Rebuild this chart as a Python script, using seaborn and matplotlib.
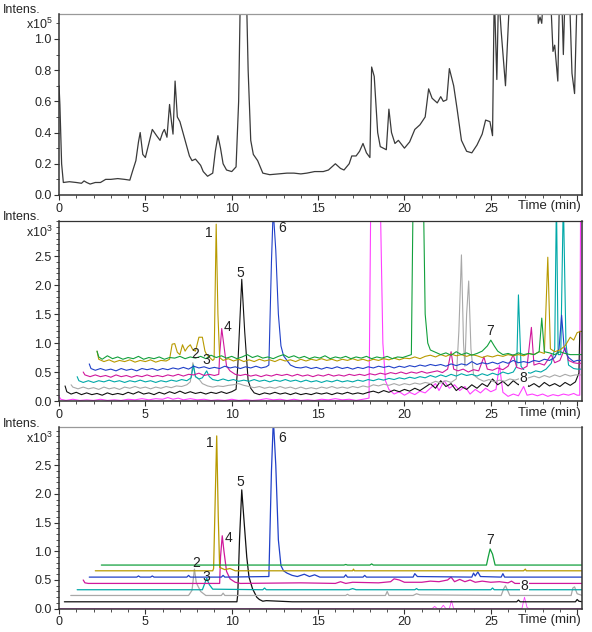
import matplotlib
matplotlib.use("Agg")
import matplotlib.pyplot as plt
from matplotlib.ticker import MultipleLocator
import seaborn as sns

# ---- top panel: total ion chromatogram (x10^5) ----
tic = [(0.0, 0.70), (0.05, 0.58), (0.15, 0.20), (0.25, 0.08), (0.6, 0.085), (1.0, 0.08), (1.3, 0.075),
       (1.45, 0.09), (1.6, 0.08), (1.8, 0.07), (2.1, 0.08), (2.4, 0.08), (2.7, 0.10), (3.0, 0.10),
       (3.4, 0.105), (3.8, 0.10), (4.1, 0.095), (4.25, 0.15), (4.45, 0.22), (4.6, 0.34), (4.7, 0.40),
       (4.85, 0.26), (5.0, 0.24), (5.2, 0.33), (5.4, 0.42), (5.65, 0.38), (5.85, 0.35), (6.0, 0.40),
       (6.1, 0.42), (6.25, 0.37), (6.4, 0.58), (6.52, 0.46), (6.6, 0.39), (6.72, 0.73), (6.85, 0.50),
       (7.0, 0.47), (7.3, 0.35), (7.55, 0.25), (7.7, 0.22), (7.9, 0.23), (8.2, 0.19), (8.35, 0.15),
       (8.6, 0.12), (8.9, 0.14), (9.05, 0.28), (9.2, 0.38), (9.35, 0.30), (9.5, 0.20), (9.7, 0.16),
       (10.0, 0.15), (10.25, 0.18), (10.4, 0.6), (10.5, 1.3), (10.85, 1.3), (10.95, 0.8), (11.1, 0.35),
       (11.25, 0.26), (11.5, 0.22), (11.8, 0.14), (12.2, 0.13), (12.7, 0.135), (13.2, 0.14), (13.6, 0.14),
       (14.0, 0.135), (14.35, 0.14), (14.8, 0.15), (15.3, 0.15), (15.6, 0.16), (16.0, 0.20), (16.3, 0.17),
       (16.5, 0.16), (16.8, 0.20), (16.95, 0.25), (17.2, 0.25), (17.4, 0.28), (17.6, 0.33), (17.8, 0.27),
       (18.0, 0.24), (18.1, 0.82), (18.25, 0.76), (18.45, 0.40), (18.6, 0.31), (18.95, 0.29), (19.1, 0.55),
       (19.25, 0.40), (19.45, 0.33), (19.65, 0.35), (20.0, 0.30), (20.3, 0.34), (20.6, 0.42), (20.9, 0.45),
       (21.2, 0.50), (21.4, 0.68), (21.6, 0.62), (21.9, 0.59), (22.1, 0.63), (22.25, 0.60), (22.45, 0.61),
       (22.6, 0.81), (22.85, 0.70), (23.05, 0.55), (23.3, 0.35), (23.6, 0.28), (23.9, 0.27), (24.2, 0.32),
       (24.5, 0.39), (24.7, 0.48), (24.95, 0.47), (25.1, 0.38), (25.2, 1.3), (25.35, 0.74), (25.45, 1.3),
       (25.6, 1.05), (25.85, 0.70), (26.1, 1.3), (27.7, 1.3), (27.75, 1.10), (27.85, 1.14), (27.95, 1.10),
       (28.05, 1.3), (28.45, 1.3), (28.6, 0.92), (28.7, 0.96), (28.88, 0.73), (28.98, 1.3), (29.1, 1.3),
       (29.2, 0.9), (29.3, 1.3), (29.55, 1.3), (29.7, 0.78), (29.85, 0.65), (30.0, 1.3), (30.3, 1.3)]

# ---- middle panel: extracted ion chromatograms (x10^3) ----
eic_green = [(2.2, 0.86), (2.3, 0.76), (2.5, 0.72), (2.8, 0.78), (3.1, 0.73), (3.4, 0.76), (3.7, 0.72),
             (4.0, 0.75), (4.3, 0.73), (4.6, 0.77), (4.9, 0.72), (5.2, 0.75), (5.5, 0.73), (5.8, 0.76),
             (6.1, 0.72), (6.4, 0.75), (6.7, 0.74), (7.0, 0.77), (7.3, 0.73), (7.6, 0.76), (7.9, 0.74),
             (8.2, 0.77), (8.5, 0.73), (8.8, 0.79), (9.1, 0.75), (9.4, 0.78), (9.7, 0.74), (10.0, 0.77),
             (10.3, 0.73), (10.6, 0.76), (10.9, 0.80), (11.2, 0.75), (11.5, 0.78), (11.8, 0.74), (12.1, 0.76),
             (12.4, 0.73), (12.7, 0.77), (13.0, 0.80), (13.3, 0.75), (13.6, 0.78), (13.9, 0.74), (14.2, 0.77),
             (14.5, 0.73), (14.8, 0.76), (15.1, 0.74), (15.4, 0.78), (15.7, 0.73), (16.0, 0.76), (16.3, 0.74),
             (16.6, 0.77), (16.9, 0.73), (17.2, 0.76), (17.5, 0.74), (17.8, 0.77), (18.1, 0.73), (18.4, 0.76),
             (18.7, 0.74), (19.0, 0.77), (19.3, 0.73), (19.6, 0.76), (19.9, 0.75), (20.2, 0.78), (20.4, 0.80),
             (20.5, 3.5), (21.1, 3.5), (21.2, 1.5), (21.35, 1.0), (21.5, 0.88), (21.8, 0.84), (22.1, 0.80),
             (22.4, 0.83), (22.7, 0.79), (23.0, 0.85), (23.3, 0.80), (23.6, 0.83), (23.9, 0.79), (24.2, 0.82),
             (24.5, 0.86), (24.8, 0.95), (25.0, 1.05), (25.2, 0.95), (25.4, 0.86), (25.7, 0.80), (26.0, 0.82),
             (26.3, 0.79), (26.6, 0.83), (26.9, 0.80), (27.2, 0.82), (27.5, 0.80), (27.8, 0.85), (27.95, 1.43),
             (28.1, 0.85), (28.4, 0.83), (28.7, 0.80), (29.0, 0.85), (29.3, 0.82), (29.6, 0.80), (30.0, 0.80),
             (30.3, 0.80)]
eic_olive = [(2.2, 0.86), (2.3, 0.72), (2.6, 0.68), (2.9, 0.71), (3.2, 0.67), (3.5, 0.70), (3.8, 0.68),
             (4.1, 0.71), (4.4, 0.67), (4.7, 0.70), (5.0, 0.68), (5.3, 0.71), (5.6, 0.67), (5.9, 0.70),
             (6.2, 0.69), (6.4, 0.72), (6.55, 0.98), (6.7, 0.99), (6.85, 0.84), (7.0, 0.80), (7.15, 0.97),
             (7.3, 0.86), (7.45, 0.93), (7.6, 0.97), (7.75, 0.88), (7.9, 0.86), (8.1, 1.10), (8.3, 1.10),
             (8.45, 0.86), (8.55, 0.80), (8.9, 0.70), (8.98, 0.72), (9.1, 3.05), (9.2, 1.5), (9.3, 0.75),
             (9.5, 0.70), (9.8, 0.73), (10.1, 0.69), (10.4, 0.72), (10.7, 0.68), (11.0, 0.71), (11.3, 0.68),
             (11.6, 0.72), (11.9, 0.69), (12.2, 0.71), (12.5, 0.68), (12.8, 0.72), (13.1, 0.69), (13.4, 0.71),
             (13.7, 0.68), (14.0, 0.72), (14.3, 0.69), (14.6, 0.72), (14.9, 0.70), (15.2, 0.73), (15.5, 0.70),
             (15.8, 0.72), (16.1, 0.69), (16.4, 0.72), (16.7, 0.70), (17.0, 0.73), (17.3, 0.70), (17.6, 0.72),
             (17.9, 0.69), (18.2, 0.72), (18.5, 0.70), (18.8, 0.73), (19.1, 0.71), (19.4, 0.74), (19.7, 0.71),
             (20.0, 0.74), (20.3, 0.73), (20.6, 0.76), (20.9, 0.73), (21.2, 0.77), (21.5, 0.79), (21.8, 0.76),
             (22.1, 0.80), (22.4, 0.77), (22.7, 0.81), (23.0, 0.78), (23.3, 0.80), (23.6, 0.77), (23.9, 0.80),
             (24.2, 0.78), (24.5, 0.75), (24.8, 0.78), (25.1, 0.76), (25.4, 0.79), (25.7, 0.77), (26.0, 0.80),
             (26.3, 0.78), (26.6, 0.80), (26.9, 0.78), (27.2, 0.82), (27.5, 0.80), (27.8, 0.85), (28.1, 0.82),
             (28.3, 2.48), (28.45, 0.90), (28.7, 0.85), (29.0, 0.88), (29.3, 0.95), (29.6, 1.10), (29.8, 1.05),
             (30.0, 1.18), (30.2, 1.2)]
eic_blue = [(1.75, 0.64), (1.85, 0.56), (2.1, 0.53), (2.4, 0.56), (2.7, 0.53), (3.0, 0.55), (3.3, 0.52),
            (3.6, 0.56), (3.9, 0.53), (4.2, 0.55), (4.5, 0.52), (4.8, 0.56), (5.1, 0.54), (5.4, 0.56),
            (5.7, 0.53), (6.0, 0.56), (6.3, 0.54), (6.6, 0.57), (6.9, 0.55), (7.2, 0.58), (7.5, 0.55),
            (7.8, 0.60), (8.1, 0.57), (8.4, 0.59), (8.7, 0.56), (9.0, 0.58), (9.3, 0.56), (9.6, 0.60),
            (9.9, 0.57), (10.2, 0.59), (10.5, 0.56), (10.8, 0.59), (11.1, 0.57), (11.4, 0.60), (11.7, 0.57),
            (12.0, 0.59), (12.15, 0.62), (12.3, 2.4), (12.4, 3.3), (12.55, 2.6), (12.7, 1.5), (12.85, 0.95),
            (13.0, 0.78), (13.2, 0.70), (13.4, 0.62), (13.7, 0.58), (14.0, 0.57), (14.3, 0.59), (14.6, 0.56),
            (14.9, 0.58), (15.2, 0.55), (15.5, 0.58), (15.8, 0.56), (16.1, 0.59), (16.4, 0.56), (16.7, 0.58),
            (17.0, 0.55), (17.3, 0.58), (17.6, 0.56), (17.9, 0.59), (18.2, 0.57), (18.5, 0.60), (18.8, 0.58),
            (19.1, 0.60), (19.4, 0.57), (19.7, 0.60), (20.0, 0.58), (20.3, 0.61), (20.6, 0.59), (20.9, 0.62),
            (21.2, 0.60), (21.5, 0.63), (21.8, 0.61), (22.1, 0.63), (22.4, 0.60), (22.7, 0.64), (23.0, 0.61),
            (23.3, 0.64), (23.6, 0.62), (23.9, 0.68), (24.2, 0.63), (24.5, 0.66), (24.8, 0.64), (25.1, 0.67),
            (25.4, 0.64), (25.7, 0.68), (26.0, 0.65), (26.3, 0.70), (26.6, 0.66), (26.9, 0.68), (27.2, 0.66),
            (27.5, 0.70), (27.8, 0.68), (28.1, 0.72), (28.4, 0.70), (28.7, 0.75), (28.95, 0.90), (29.1, 1.48),
            (29.25, 0.90), (29.5, 0.75), (29.8, 0.68), (30.0, 0.70), (30.2, 0.70)]
eic_magenta = [(1.4, 0.50), (1.5, 0.45), (1.8, 0.42), (2.1, 0.45), (2.4, 0.42), (2.7, 0.44), (3.0, 0.41),
               (3.3, 0.45), (3.6, 0.42), (3.9, 0.44), (4.2, 0.41), (4.5, 0.44), (4.8, 0.42), (5.1, 0.45),
               (5.4, 0.42), (5.7, 0.44), (6.0, 0.42), (6.3, 0.45), (6.6, 0.43), (6.9, 0.46), (7.2, 0.43),
               (7.5, 0.46), (7.8, 0.45), (8.1, 0.48), (8.4, 0.44), (8.7, 0.46), (9.0, 0.44), (9.25, 0.46),
               (9.3, 0.80), (9.42, 1.25), (9.55, 0.95), (9.7, 0.60), (9.9, 0.52), (10.2, 0.46), (10.5, 0.44),
               (10.8, 0.46), (11.1, 0.43), (11.4, 0.45), (11.7, 0.42), (12.0, 0.45), (12.3, 0.43), (12.6, 0.46),
               (12.9, 0.44), (13.2, 0.46), (13.5, 0.43), (13.8, 0.46), (14.1, 0.43), (14.4, 0.45), (14.7, 0.42),
               (15.0, 0.45), (15.3, 0.43), (15.6, 0.46), (15.9, 0.43), (16.2, 0.45), (16.5, 0.43), (16.8, 0.46),
               (17.1, 0.44), (17.4, 0.46), (17.7, 0.44), (18.0, 0.47), (18.3, 0.45), (18.6, 0.48), (18.9, 0.46),
               (19.2, 0.49), (19.5, 0.47), (19.8, 0.50), (20.1, 0.47), (20.4, 0.50), (20.7, 0.48), (21.0, 0.51),
               (21.3, 0.48), (21.6, 0.50), (21.9, 0.52), (22.2, 0.49), (22.5, 0.55), (22.7, 0.85), (22.85, 0.55),
               (23.1, 0.52), (23.4, 0.55), (23.7, 0.50), (24.0, 0.54), (24.3, 0.52), (24.6, 0.76), (24.8, 0.55),
               (25.1, 0.53), (25.4, 0.57), (25.7, 0.54), (26.0, 0.60), (26.3, 0.80), (26.5, 0.58), (26.8, 0.55),
               (27.1, 0.60), (27.35, 1.27), (27.5, 0.62), (27.8, 0.65), (28.1, 0.62), (28.5, 0.80), (28.7, 0.66),
               (29.0, 0.70), (29.3, 0.92), (29.5, 0.70), (29.8, 0.66), (30.0, 0.65), (30.2, 0.65)]
eic_cyan = [(1.05, 0.42), (1.15, 0.35), (1.4, 0.32), (1.7, 0.35), (2.0, 0.32), (2.3, 0.35), (2.6, 0.33),
            (2.9, 0.36), (3.2, 0.33), (3.5, 0.35), (3.8, 0.32), (4.1, 0.35), (4.4, 0.33), (4.7, 0.36),
            (5.0, 0.33), (5.3, 0.35), (5.6, 0.32), (5.9, 0.35), (6.2, 0.33), (6.5, 0.36), (6.8, 0.34),
            (7.1, 0.37), (7.4, 0.35), (7.65, 0.40), (7.78, 0.62), (7.9, 0.42), (8.1, 0.38), (8.3, 0.40),
            (8.55, 0.52), (8.7, 0.42), (8.9, 0.37), (9.2, 0.35), (9.5, 0.38), (9.8, 0.35), (10.1, 0.37),
            (10.4, 0.34), (10.7, 0.36), (11.0, 0.34), (11.3, 0.37), (11.6, 0.34), (11.9, 0.36), (12.2, 0.33),
            (12.5, 0.36), (12.8, 0.34), (13.1, 0.37), (13.4, 0.34), (13.7, 0.36), (14.0, 0.33), (14.3, 0.36),
            (14.6, 0.33), (14.9, 0.35), (15.2, 0.32), (15.5, 0.35), (15.8, 0.33), (16.1, 0.36), (16.4, 0.33),
            (16.7, 0.35), (17.0, 0.33), (17.3, 0.36), (17.6, 0.34), (17.9, 0.37), (18.2, 0.35), (18.5, 0.38),
            (18.8, 0.36), (19.1, 0.39), (19.4, 0.37), (19.7, 0.40), (20.0, 0.38), (20.3, 0.41), (20.6, 0.39),
            (20.9, 0.42), (21.2, 0.40), (21.5, 0.44), (21.8, 0.41), (22.1, 0.45), (22.4, 0.42), (22.7, 0.46),
            (23.0, 0.43), (23.3, 0.47), (23.6, 0.44), (23.9, 0.46), (24.2, 0.43), (24.5, 0.47), (24.8, 0.44),
            (25.1, 0.48), (25.4, 0.45), (25.7, 0.50), (26.0, 0.47), (26.3, 0.50), (26.5, 0.60), (26.6, 1.83),
            (26.75, 0.60), (27.0, 0.50), (27.3, 0.48), (27.6, 0.52), (27.9, 0.50), (28.2, 0.55), (28.5, 0.65),
            (28.7, 0.90), (28.8, 3.5), (28.9, 0.80), (29.05, 0.80), (29.2, 3.5), (29.35, 1.0), (29.5, 0.62),
            (29.8, 0.56), (30.0, 0.55), (30.2, 0.55)]
eic_grey = [(0.7, 0.28), (0.8, 0.24), (1.1, 0.21), (1.4, 0.24), (1.7, 0.21), (2.0, 0.23), (2.3, 0.20),
            (2.6, 0.24), (2.9, 0.21), (3.2, 0.23), (3.5, 0.20), (3.8, 0.24), (4.1, 0.22), (4.4, 0.25),
            (4.7, 0.22), (5.0, 0.24), (5.3, 0.21), (5.6, 0.24), (5.9, 0.22), (6.2, 0.25), (6.5, 0.23),
            (6.8, 0.26), (7.1, 0.25), (7.4, 0.28), (7.6, 0.33), (7.75, 0.66), (7.9, 0.42), (8.1, 0.38),
            (8.3, 0.30), (8.6, 0.26), (8.9, 0.24), (9.2, 0.26), (9.5, 0.25), (9.8, 0.27), (10.1, 0.28),
            (10.4, 0.30), (10.7, 0.27), (11.0, 0.25), (11.3, 0.23), (11.6, 0.25), (11.9, 0.22), (12.2, 0.24),
            (12.5, 0.22), (12.8, 0.25), (13.1, 0.22), (13.4, 0.24), (13.7, 0.21), (14.0, 0.24), (14.3, 0.21),
            (14.6, 0.23), (14.9, 0.21), (15.2, 0.24), (15.5, 0.22), (15.8, 0.25), (16.1, 0.22), (16.4, 0.24),
            (16.7, 0.22), (17.0, 0.25), (17.3, 0.23), (17.6, 0.26), (17.9, 0.24), (18.2, 0.28), (18.5, 0.26),
            (18.8, 0.29), (19.1, 0.27), (19.4, 0.30), (19.7, 0.27), (20.0, 0.30), (20.3, 0.28), (20.6, 0.31),
            (20.9, 0.29), (21.2, 0.32), (21.5, 0.30), (21.8, 0.34), (22.1, 0.31), (22.4, 0.35), (22.7, 0.32),
            (23.0, 0.38), (23.15, 1.2), (23.3, 2.52), (23.42, 1.0), (23.5, 0.6), (23.6, 1.5), (23.72, 2.07),
            (23.85, 0.9), (24.0, 0.45), (24.3, 0.38), (24.6, 0.34), (24.9, 0.37), (25.2, 0.33), (25.5, 0.36),
            (25.8, 0.34), (26.1, 0.38), (26.4, 0.36), (26.8, 0.40), (27.2, 0.40), (27.5, 0.43), (27.8, 0.40),
            (28.1, 0.44), (28.4, 0.41), (28.7, 0.45), (29.0, 0.42), (29.3, 0.46), (29.6, 0.43), (29.9, 0.45),
            (30.2, 0.45)]
eic_black = [(0.35, 0.26), (0.45, 0.16), (0.7, 0.12), (1.0, 0.15), (1.3, 0.11), (1.6, 0.14), (1.9, 0.11),
             (2.2, 0.13), (2.5, 0.10), (2.8, 0.14), (3.1, 0.11), (3.4, 0.13), (3.7, 0.11), (4.0, 0.15),
             (4.3, 0.12), (4.6, 0.16), (4.9, 0.12), (5.2, 0.14), (5.5, 0.11), (5.8, 0.15), (6.1, 0.12),
             (6.4, 0.16), (6.7, 0.13), (7.0, 0.17), (7.3, 0.13), (7.6, 0.16), (7.9, 0.13), (8.2, 0.15),
             (8.5, 0.12), (8.8, 0.15), (9.1, 0.13), (9.4, 0.16), (9.7, 0.13), (10.0, 0.16), (10.25, 0.20),
             (10.35, 0.60), (10.58, 2.10), (10.75, 1.20), (10.95, 0.35), (11.1, 0.22), (11.3, 0.14),
             (11.6, 0.11), (11.9, 0.14), (12.2, 0.12), (12.5, 0.15), (12.8, 0.12), (13.1, 0.14), (13.4, 0.11),
             (13.7, 0.14), (14.0, 0.11), (14.3, 0.13), (14.6, 0.11), (14.9, 0.14), (15.2, 0.12), (15.5, 0.14),
             (15.8, 0.11), (16.1, 0.14), (16.4, 0.12), (16.7, 0.15), (17.0, 0.12), (17.3, 0.14), (17.6, 0.12),
             (17.9, 0.15), (18.2, 0.17), (18.5, 0.14), (18.8, 0.18), (19.1, 0.15), (19.4, 0.19), (19.7, 0.16),
             (20.0, 0.20), (20.3, 0.17), (20.6, 0.22), (20.9, 0.18), (21.2, 0.24), (21.5, 0.30), (21.8, 0.22),
             (22.1, 0.35), (22.4, 0.25), (22.7, 0.30), (23.0, 0.18), (23.3, 0.25), (23.6, 0.20), (23.9, 0.28),
             (24.2, 0.22), (24.5, 0.30), (24.8, 0.25), (25.1, 0.38), (25.4, 0.28), (25.7, 0.34), (26.0, 0.26),
             (26.3, 0.35), (26.6, 0.28), (26.9, 0.36), (27.2, 0.25), (27.5, 0.30), (27.8, 0.24), (28.1, 0.32),
             (28.4, 0.26), (28.7, 0.30), (29.0, 0.25), (29.3, 0.32), (29.6, 0.27), (29.9, 0.33), (30.1, 0.48),
             (30.15, 1.20), (30.3, 1.20)]
eic_pink = [(0.0, 0.08), (0.1, 0.03), (0.4, 0.01), (0.8, 0.03), (1.2, 0.01), (1.6, 0.02), (2.0, 0.01),
            (2.4, 0.03), (2.8, 0.01), (3.2, 0.02), (3.6, 0.01), (4.0, 0.03), (4.4, 0.02), (4.8, 0.04),
            (5.2, 0.02), (5.6, 0.04), (6.0, 0.03), (6.3, 0.06), (6.6, 0.03), (6.9, 0.05), (7.2, 0.02),
            (7.6, 0.04), (8.0, 0.02), (8.4, 0.03), (8.8, 0.01), (9.2, 0.02), (9.6, 0.01), (10.0, 0.03),
            (10.4, 0.01), (10.8, 0.02), (11.2, 0.01), (11.6, 0.02), (12.0, 0.04), (12.4, 0.02), (12.8, 0.03),
            (13.2, 0.01), (13.6, 0.03), (14.0, 0.01), (14.4, 0.02), (14.8, 0.01), (15.2, 0.03), (15.6, 0.02),
            (16.0, 0.04), (16.4, 0.02), (16.8, 0.03), (17.2, 0.01), (17.6, 0.03), (17.95, 0.05), (18.05, 3.5),
            (18.6, 3.5), (18.75, 1.0), (18.9, 0.35), (19.1, 0.20), (19.4, 0.12), (19.7, 0.16), (20.0, 0.10),
            (20.3, 0.15), (20.6, 0.11), (20.9, 0.17), (21.2, 0.14), (21.5, 0.22), (21.8, 0.30), (22.0, 0.18),
            (22.3, 0.35), (22.6, 0.22), (22.9, 0.28), (23.2, 0.18), (23.5, 0.25), (23.8, 0.12), (24.1, 0.20),
            (24.4, 0.14), (24.7, 0.22), (25.0, 0.16), (25.3, 0.20), (25.5, 0.62), (25.7, 0.15), (26.0, 0.08),
            (26.3, 0.12), (26.6, 0.09), (26.9, 0.25), (27.1, 0.10), (27.4, 0.12), (27.7, 0.09), (28.0, 0.12),
            (28.3, 0.08), (28.6, 0.11), (28.9, 0.09), (29.2, 0.12), (29.5, 0.10), (29.8, 0.13), (30.0, 0.10),
            (30.15, 0.10), (30.2, 3.5)]

# ---- bottom panel: smoothed / offset chromatograms (x10^3) ----
sm_green = [(2.45, 0.76), (16.5, 0.76), (16.6, 0.77), (16.7, 0.76), (18.0, 0.76), (18.1, 0.78), (18.2, 0.76),
            (24.75, 0.76), (24.85, 0.90), (24.96, 1.04), (25.1, 0.95), (25.25, 0.76), (30.3, 0.76)]
sm_olive = [(2.1, 0.66), (8.9, 0.66), (8.95, 0.70), (9.05, 2.0), (9.13, 3.01), (9.22, 1.6), (9.3, 0.72),
            (9.6, 0.68), (9.9, 0.70), (10.2, 0.66), (17.0, 0.66), (17.05, 0.69), (17.1, 0.66), (26.9, 0.66),
            (27.0, 0.69), (27.05, 0.66), (30.3, 0.66)]
sm_blue = [(1.75, 0.55), (4.5, 0.55), (4.6, 0.57), (4.7, 0.55), (5.3, 0.55), (5.4, 0.57), (5.5, 0.55),
           (7.4, 0.55), (7.5, 0.58), (7.6, 0.55), (9.4, 0.55), (9.5, 0.58), (9.6, 0.55), (12.15, 0.56),
           (12.3, 2.4), (12.41, 3.3), (12.55, 2.5), (12.7, 1.2), (12.85, 0.75), (13.0, 0.66), (13.2, 0.62),
           (13.5, 0.58), (13.8, 0.56), (14.2, 0.60), (14.5, 0.56), (14.8, 0.59), (15.1, 0.55), (16.5, 0.55),
           (16.6, 0.59), (16.7, 0.55), (17.6, 0.55), (17.7, 0.58), (17.8, 0.55), (20.5, 0.55), (20.6, 0.61),
           (20.75, 0.56), (23.9, 0.55), (24.0, 0.62), (24.1, 0.57), (24.25, 0.64), (24.4, 0.56), (25.6, 0.55),
           (25.7, 0.61), (25.8, 0.55), (30.3, 0.55)]
sm_magenta = [(1.4, 0.50), (1.5, 0.45), (1.7, 0.44), (9.3, 0.44), (9.35, 0.9), (9.45, 1.27), (9.55, 1.0),
              (9.7, 0.65), (9.9, 0.52), (10.2, 0.46), (10.5, 0.44), (14.0, 0.45), (16.0, 0.44), (16.3, 0.47),
              (16.6, 0.44), (17.0, 0.46), (18.5, 0.45), (19.2, 0.47), (19.4, 0.52), (19.7, 0.50), (20.0, 0.46),
              (21.0, 0.46), (21.5, 0.48), (22.0, 0.47), (22.5, 0.50), (22.7, 0.55), (22.9, 0.47), (23.2, 0.51),
              (23.5, 0.47), (23.8, 0.50), (24.1, 0.46), (24.5, 0.48), (25.0, 0.46), (25.5, 0.47), (26.0, 0.45),
              (26.2, 0.48), (26.4, 0.44), (30.3, 0.44)]
sm_cyan = [(1.05, 0.33), (8.3, 0.33), (8.45, 0.45), (8.55, 0.53), (8.7, 0.42), (8.9, 0.34), (11.8, 0.33),
           (11.9, 0.36), (12.0, 0.33), (16.8, 0.33), (17.0, 0.35), (17.2, 0.33), (20.6, 0.33), (20.7, 0.35),
           (20.8, 0.33), (25.0, 0.33), (25.1, 0.36), (25.2, 0.33), (30.3, 0.33)]
sm_grey = [(0.68, 0.23), (7.5, 0.23), (7.7, 0.32), (7.84, 0.69), (7.95, 0.45), (8.2, 0.30), (8.5, 0.23),
           (9.4, 0.23), (9.5, 0.27), (9.6, 0.23), (16.6, 0.23), (16.7, 0.25), (16.8, 0.23), (18.9, 0.23),
           (19.0, 0.30), (19.1, 0.23), (20.5, 0.23), (20.7, 0.26), (20.9, 0.24), (25.6, 0.23), (25.75, 0.35),
           (25.85, 0.40), (26.0, 0.30), (26.1, 0.23), (29.65, 0.23), (29.75, 0.36), (29.85, 0.38), (30.0, 0.26),
           (30.3, 0.23)]
sm_black = [(0.31, 0.12), (10.3, 0.12), (10.35, 0.25), (10.45, 1.2), (10.58, 2.07), (10.72, 1.5), (10.87, 0.90),
            (11.0, 0.55), (11.2, 0.35), (11.45, 0.20), (11.6, 0.16), (11.8, 0.13), (12.0, 0.14), (13.5, 0.12),
            (26.5, 0.12), (26.6, 0.15), (26.7, 0.12), (29.9, 0.12), (30.0, 0.16), (30.1, 0.13), (30.3, 0.12)]
sm_pink = [(0.0, 0.0), (21.6, 0.0), (21.75, 0.04), (21.9, 0.0), (22.1, 0.0), (22.25, 0.06), (22.4, 0.0),
           (22.6, 0.0), (22.72, 0.14), (22.85, 0.0), (26.8, 0.0), (26.95, 0.20), (27.1, 0.02), (27.2, 0.0),
           (30.3, 0.0)]

colors = {"green": "#12a03c", "olive": "#b89a00", "blue": "#2040c8", "magenta": "#d0189c",
          "cyan": "#00a8a8", "grey": "#a8a8a8", "black": "#111111", "pink": "#ff40ff"}

eic_traces = [("pink", eic_pink), ("black", eic_black), ("grey", eic_grey), ("cyan", eic_cyan),
              ("magenta", eic_magenta), ("blue", eic_blue), ("olive", eic_olive), ("green", eic_green)]
sm_traces = [("pink", sm_pink), ("black", sm_black), ("grey", sm_grey), ("cyan", sm_cyan),
             ("magenta", sm_magenta), ("blue", sm_blue), ("olive", sm_olive), ("green", sm_green)]

eic_labels = [("1", 8.69, 2.90), ("2", 7.9, 0.81), ("3", 8.51, 0.71), ("4", 9.77, 1.27),
              ("5", 10.5, 2.21), ("6", 12.9, 2.98), ("7", 24.96, 1.20), ("8", 26.9, 0.40)]
sm_labels = [("1", 8.71, 2.89), ("2", 7.92, 0.79), ("3", 8.55, 0.56), ("4", 9.81, 1.24),
             ("5", 10.52, 2.21), ("6", 12.93, 2.97), ("7", 24.96, 1.20), ("8", 26.95, 0.40)]

sns.set_style("ticks")
plt.rcParams["font.family"] = ["Liberation Sans", "DejaVu Sans"]
plt.rcParams["mathtext.default"] = "regular"
FS = 9


def draw(ax, pts, color, lw=0.9, z=2):
    t, v = zip(*pts)
    sns.lineplot(x=list(t), y=list(v), color=color, linewidth=lw, estimator=None, sort=False, ax=ax,
                 zorder=z)


def style(ax, ymax, yticks, top_color):
    ax.set_xlim(0, 30.28)
    ax.set_ylim(0, ymax)
    ax.set_xticks([0, 5, 10, 15, 20, 25, 30], labels=["0", "5", "10", "15", "20", "25", ""])
    ax.xaxis.set_minor_locator(MultipleLocator(1))
    ax.set_yticks(yticks, labels=[f"{y:.1f}" for y in yticks])
    ax.yaxis.set_minor_locator(MultipleLocator(0.1))
    ax.tick_params(which="major", length=3.5, width=0.8, direction="out", labelsize=FS, pad=2,
                   color="#333333")
    ax.tick_params(which="minor", length=2, width=0.6, direction="out", color="#333333")
    for s in ["left", "bottom", "right"]:
        ax.spines[s].set_color("#333333")
        ax.spines[s].set_linewidth(1.1)
        ax.spines[s].set_zorder(4)
    ax.spines["top"].set_color(top_color)
    ax.spines["top"].set_linewidth(0.9)
    ax.set_xlabel("")
    ax.set_ylabel("")


fig = plt.figure(figsize=(5.92, 6.32), dpi=100)
ax1 = fig.add_axes([0.0997, 0.6915, 0.8834, 0.2864])
ax2 = fig.add_axes([0.0997, 0.3655, 0.8834, 0.2853])
ax3 = fig.add_axes([0.0997, 0.0369, 0.8834, 0.2870])

draw(ax1, tic, "#3a3a3a", lw=0.9)
style(ax1, 1.16, [0.0, 0.2, 0.4, 0.6, 0.8, 1.0], "#999999")

for name, pts in eic_traces:
    draw(ax2, pts, colors[name], lw=0.8)
style(ax2, 3.11, [0.0, 0.5, 1.0, 1.5, 2.0, 2.5], "#333333")

for name, pts in sm_traces:
    draw(ax3, pts, colors[name], lw=0.9 if name != "pink" else 0.6, z=1 if name == "pink" else 2)
style(ax3, 3.16, [0.0, 0.5, 1.0, 1.5, 2.0, 2.5], "#999999")

for ax, labels in [(ax2, eic_labels), (ax3, sm_labels)]:
    for txt, t, v in labels:
        box = dict(facecolor="white", edgecolor="none", pad=0.5) if txt == "8" else None
        ax.text(t, v, txt, ha="center", va="center", fontsize=FS + 1, color="#222222", bbox=box, zorder=5)

# axis captions in the Bruker style
for ytop, yexp, yt, exp in [(0.984, 0.962, 0.674, "5"), (0.657, 0.633, 0.3465, "3"),
                            (0.329, 0.307, 0.019, "3")]:
    fig.text(0.005, ytop, "Intens.", fontsize=FS, ha="left", va="center")
    fig.text(0.089, yexp, "x10$^{" + exp + "}$", fontsize=FS, ha="right", va="center")
    fig.text(0.981, yt, "Time (min)", fontsize=FS + 0.5, ha="right", va="center")

fig.savefig("out.png", dpi=100)
